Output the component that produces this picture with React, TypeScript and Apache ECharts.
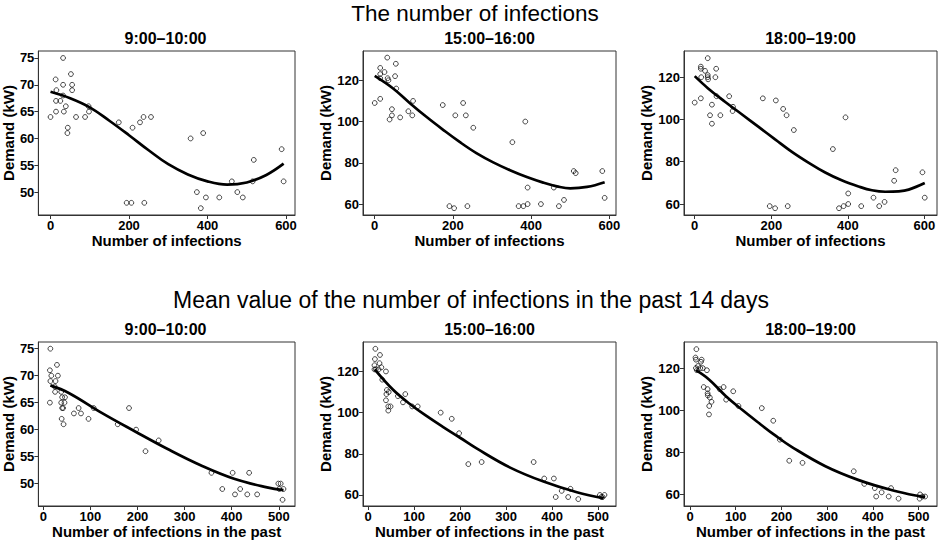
import React, { useEffect, useRef } from "react";
import * as echarts from "echarts";

// ---------- texts ----------
const MAIN_TITLE_TOP = "The number of infections";
const MAIN_TITLE_BOTTOM = "Mean value of the number of infections in the past 14 days";
const PANEL_TITLES = ["9:00\u201310:00", "15:00\u201316:00", "18:00\u201319:00", "9:00\u201310:00", "15:00\u201316:00", "18:00\u201319:00"];
const X_NAME_TOP = "Number of infections";
const X_NAME_BOTTOM = "Number of infections in the past";
const Y_NAME = "Demand (kW)";

// ---------- tick labels ----------
const X_TICKS_TOP = [0, 200, 400, 600];
const X_TICKS_BOTTOM = [0, 100, 200, 300, 400, 500];
const Y_TICKS_9 = [50, 55, 60, 65, 70, 75];
const Y_TICKS_EVE = [60, 80, 100, 120];

// ---------- panel 1: infections, 9:00-10:00 ----------
const P1_X = [0, 13, 15, 14, 14, 25, 32, 32, 32, 34, 39, 44, 43, 52, 55, 55, 65, 88, 97, 98, 174, 209, 194, 206, 228, 237, 239, 256, 357, 389, 373, 383, 396, 430, 462, 476, 490, 518, 515, 589, 594];
const P1_Y = [64, 71, 69, 67, 65, 67, 75, 70, 68, 65, 66, 62, 61, 72, 70, 69, 64, 64, 66, 65, 63, 62, 48, 48, 63, 64, 48, 64, 60, 61, 50, 47, 49, 49, 52, 50, 49, 56, 52, 58, 52];
const C1_X = [0, 50, 100, 150, 200, 250, 300, 350, 400, 450, 500, 550, 594];
const C1_Y = [68.7, 67.5, 65.8, 63.3, 60.6, 57.8, 55.2, 53.3, 52.0, 51.4, 51.8, 53.2, 55.3];

// ---------- panel 2: infections, 15:00-16:00 ----------
const P2_X = [0, 14, 14, 14, 14, 25, 32, 33, 35, 38, 44, 44, 52, 54, 55, 65, 86, 96, 98, 174, 191, 203, 206, 226, 233, 237, 252, 352, 368, 380, 385, 391, 391, 425, 458, 471, 484, 509, 514, 582, 588];
const P2_Y = [109, 126, 123, 121, 111, 124, 131, 121, 120, 101, 106, 103, 122, 128, 116, 102, 105, 103, 110, 108, 59, 58, 103, 109, 103, 59, 97, 90, 59, 59, 100, 68, 60, 60, 68, 59, 62, 76, 75, 76, 63];
const C2_X = [0, 47, 90, 132, 175, 218, 260, 303, 346, 389, 431, 466, 500, 543, 588];
const C2_Y = [122.1, 116.0, 108.9, 102.3, 96.0, 90.0, 84.7, 80.2, 76.4, 73.1, 70.4, 68.6, 67.6, 68.3, 70.6];

// ---------- panel 3: infections, 18:00-19:00 ----------
const P3_X = [0, 16, 16, 17, 16, 27, 34, 34, 34, 35, 40, 45, 45, 56, 54, 57, 67, 90, 100, 99, 178, 196, 210, 212, 231, 240, 243, 259, 361, 377, 389, 394, 401, 401, 435, 467, 482, 496, 521, 525, 595, 601];
const P3_Y = [108, 125, 124, 120, 110, 123, 129, 121, 120, 119, 102, 107, 98, 124, 120, 111, 102, 111, 106, 104, 110, 59, 58, 109, 105, 102, 59, 95, 86, 58, 59, 101, 65, 60, 59, 63, 59, 61, 71, 76, 75, 63];
const C3_X = [0, 35, 79, 122, 166, 210, 253, 297, 341, 384, 428, 463, 498, 533, 559, 601];
const C3_Y = [120.5, 114.7, 108.4, 102.6, 96.6, 90.6, 84.8, 79.6, 74.9, 71.2, 68.3, 66.5, 65.8, 66.0, 66.8, 69.9];

// ---------- panel 4: 14-day mean, 9:00-10:00 ----------
const P4_X = [15, 14, 15, 17, 14, 24, 25, 26, 29, 31, 38, 40, 38, 40, 42, 39, 43, 45, 46, 65, 75, 80, 96, 107, 158, 182, 197, 217, 245, 357, 380, 402, 407, 418, 433, 437, 454, 499, 504, 501, 510, 508];
const P4_Y = [75, 71, 69, 70, 65, 68, 67, 69, 72, 70, 67, 66, 65, 64, 64, 62, 61, 65, 66, 63, 64, 63, 62, 64, 61, 64, 60, 56, 58, 52, 49, 52, 48, 49, 48, 52, 48, 50, 50, 49, 49, 47];
const C4_X = [15, 54, 124, 194, 264, 334, 405, 475, 510];
const C4_Y = [68.2, 66.8, 63.1, 59.7, 56.4, 53.4, 50.9, 49.3, 48.8];

// ---------- panel 5: 14-day mean, 15:00-16:00 ----------
const P5_X = [16, 15, 14, 14, 17, 26, 25, 29, 23, 39, 31, 41, 40, 45, 39, 44, 44, 49, 65, 76, 81, 96, 108, 158, 182, 198, 218, 247, 360, 383, 404, 408, 421, 435, 440, 457, 504, 507, 510, 514];
const P5_Y = [131, 126, 123, 121, 121, 128, 124, 122, 121, 120, 116, 111, 109, 110, 106, 103, 101, 103, 108, 105, 109, 103, 103, 100, 97, 90, 75, 76, 76, 68, 68, 59, 62, 59, 63, 58, 60, 59, 59, 60];
const C5_X = [14.5, 54.5, 91, 127, 163.5, 200, 236, 309, 381.5, 454, 512];
const C5_Y = [121, 111.1, 104.2, 98.4, 93.0, 87.8, 82.6, 73.3, 66.5, 61.3, 58.4];

// ---------- panel 6: 14-day mean, 18:00-19:00 ----------
const P6_X = [14, 12, 13, 13, 15, 17.5, 24, 25.5, 22.5, 28, 37, 30, 38.5, 38.5, 39, 43.5, 47, 42, 41.5, 65, 73.5, 79, 94.5, 106, 157, 182, 196.5, 217, 246, 358, 381, 404, 407, 419, 434.5, 439.5, 456, 503, 502, 508, 514];
const P6_Y = [129, 125, 124, 120, 119, 121, 123, 124, 120, 120, 119, 111, 110, 108, 107, 106, 104, 102, 98, 110, 111, 105, 109, 102, 101, 95, 86, 76, 75, 71, 65, 63, 59, 61, 59, 63, 58, 60, 58, 59, 59];
const C6_X = [13, 41.5, 78, 114, 150.7, 187, 223, 296, 369, 442, 500, 514];
const C6_Y = [119, 114.6, 106.8, 100.2, 93.9, 87.9, 82.5, 73.4, 66.8, 62.0, 59.2, 58.9];

// ---------- axis extents (R-style 4% padding, read from the frame) ----------
const X_EXT = [[-31, 623], [-30, 617], [-28, 633], [-10.5, 534.4], [-10.9, 539], [-13.1, 540]];
const Y_EXT = [[45.73, 76.3], [54.7, 134.2], [54.8, 132.4], [45.85, 76.24], [54.65, 134.3], [54.5, 132.4]];

const FONT = "'Liberation Sans', Arial, Helvetica, sans-serif";

const zip = (a: number[], b: number[]) => a.map((v, i) => [v, b[i]]);

const PANELS = [
  { px: P1_X, py: P1_Y, cx: C1_X, cy: C1_Y, xt: X_TICKS_TOP, yt: Y_TICKS_9, xn: X_NAME_TOP },
  { px: P2_X, py: P2_Y, cx: C2_X, cy: C2_Y, xt: X_TICKS_TOP, yt: Y_TICKS_EVE, xn: X_NAME_TOP },
  { px: P3_X, py: P3_Y, cx: C3_X, cy: C3_Y, xt: X_TICKS_TOP, yt: Y_TICKS_EVE, xn: X_NAME_TOP },
  { px: P4_X, py: P4_Y, cx: C4_X, cy: C4_Y, xt: X_TICKS_BOTTOM, yt: Y_TICKS_9, xn: X_NAME_BOTTOM },
  { px: P5_X, py: P5_Y, cx: C5_X, cy: C5_Y, xt: X_TICKS_BOTTOM, yt: Y_TICKS_EVE, xn: X_NAME_BOTTOM },
  { px: P6_X, py: P6_Y, cx: C6_X, cy: C6_Y, xt: X_TICKS_BOTTOM, yt: Y_TICKS_EVE, xn: X_NAME_BOTTOM },
];

// layout (pixels)
const LAYOUT = [
  { left: 36, top: 51, width: 259, height: 164, yGap: 22 },
  { left: 363, top: 51, width: 253, height: 164, yGap: 30 },
  { left: 684, top: 51, width: 253, height: 164, yGap: 30 },
  { left: 36, top: 342, width: 259, height: 164, yGap: 22 },
  { left: 363, top: 342, width: 253, height: 164, yGap: 30 },
  { left: 684, top: 342, width: 253, height: 164, yGap: 30 },
];

function buildOption() {
  const AX = "#333";
  const grid = LAYOUT.map((l) => ({
    left: l.left,
    top: l.top,
    width: l.width,
    height: l.height,
    show: true,
    borderColor: AX,
    borderWidth: 1,
    backgroundColor: "transparent",
    containLabel: false,
  }));
  const xAxis = PANELS.map((p, i) => ({
    type: "value",
    gridIndex: i,
    min: X_EXT[i][0],
    max: X_EXT[i][1],
    name: p.xn,
    nameLocation: "middle",
    nameGap: 18,
    nameTextStyle: { fontFamily: FONT, fontSize: 15, fontWeight: "bold", color: "#000", verticalAlign: "top" },
    axisLine: { show: true, onZero: false, lineStyle: { color: AX, width: 1 } },
    axisTick: { show: true, inside: false, length: 4, customValues: p.xt, lineStyle: { color: AX, width: 1 } },
    axisLabel: { show: true, margin: 4, customValues: p.xt, fontFamily: FONT, fontSize: 13, fontWeight: "bold", color: "#000" },
    splitLine: { show: false },
  }));
  const yAxis = PANELS.map((p, i) => ({
    type: "value",
    gridIndex: i,
    min: Y_EXT[i][0],
    max: Y_EXT[i][1],
    name: Y_NAME,
    nameLocation: "middle",
    nameRotate: 90,
    nameGap: LAYOUT[i].yGap,
    nameTextStyle: { fontFamily: FONT, fontSize: 15, fontWeight: "bold", color: "#000" },
    axisLine: { show: true, onZero: false, lineStyle: { color: AX, width: 1 } },
    axisTick: { show: true, inside: false, length: 4, customValues: p.yt, lineStyle: { color: AX, width: 1 } },
    axisLabel: { show: true, margin: 4, customValues: p.yt, fontFamily: FONT, fontSize: 13, fontWeight: "bold", color: "#000" },
    splitLine: { show: false },
  }));
  const series: any[] = [];
  PANELS.forEach((p, i) => {
    series.push({
      type: "scatter",
      xAxisIndex: i,
      yAxisIndex: i,
      data: zip(p.px, p.py),
      symbol: "circle",
      symbolSize: 4.8,
      itemStyle: { color: "transparent", borderColor: "#000", borderWidth: 0.9 },
      z: 2,
      silent: true,
    });
    series.push({
      type: "line",
      xAxisIndex: i,
      yAxisIndex: i,
      data: zip(p.cx, p.cy),
      showSymbol: false,
      symbol: "none",
      smooth: 0.4,
      lineStyle: { color: "#000", width: 2.7 },
      z: 3,
      silent: true,
    });
  });

  const centers = LAYOUT.map((l) => l.left + l.width / 2);
  const graphic: any[] = [
    {
      type: "text",
      x: 475,
      y: 13,
      style: { text: MAIN_TITLE_TOP, font: `22.5px ${FONT}`, fill: "#000", align: "center", verticalAlign: "middle", textAlign: "center", textVerticalAlign: "middle" },
    },
    {
      type: "text",
      x: 471,
      y: 300,
      style: { text: MAIN_TITLE_BOTTOM, font: `23px ${FONT}`, fill: "#000", align: "center", verticalAlign: "middle", textAlign: "center", textVerticalAlign: "middle" },
    },
  ];
  PANEL_TITLES.forEach((t, i) => {
    graphic.push({
      type: "text",
      x: centers[i],
      y: i < 3 ? 38.5 : 329.5,
      style: { text: t, font: `bold 16px ${FONT}`, fill: "#000", align: "center", verticalAlign: "middle", textAlign: "center", textVerticalAlign: "middle" },
    });
  });

  return {
    animation: false,
    backgroundColor: "#fff",
    grid,
    xAxis,
    yAxis,
    series,
    graphic,
  };
}

export default function App() {
  const ref = useRef<HTMLDivElement>(null);
  useEffect(() => {
    if (!ref.current) return;
    const chart = echarts.init(ref.current, null, { renderer: "svg" });
    chart.setOption(buildOption() as any);
    return () => chart.dispose();
  }, []);
  return (
    <div
      ref={ref}
      style={{ position: "absolute", left: 0, top: 0, width: 941, height: 541, background: "#fff" }}
    />
  );
}
